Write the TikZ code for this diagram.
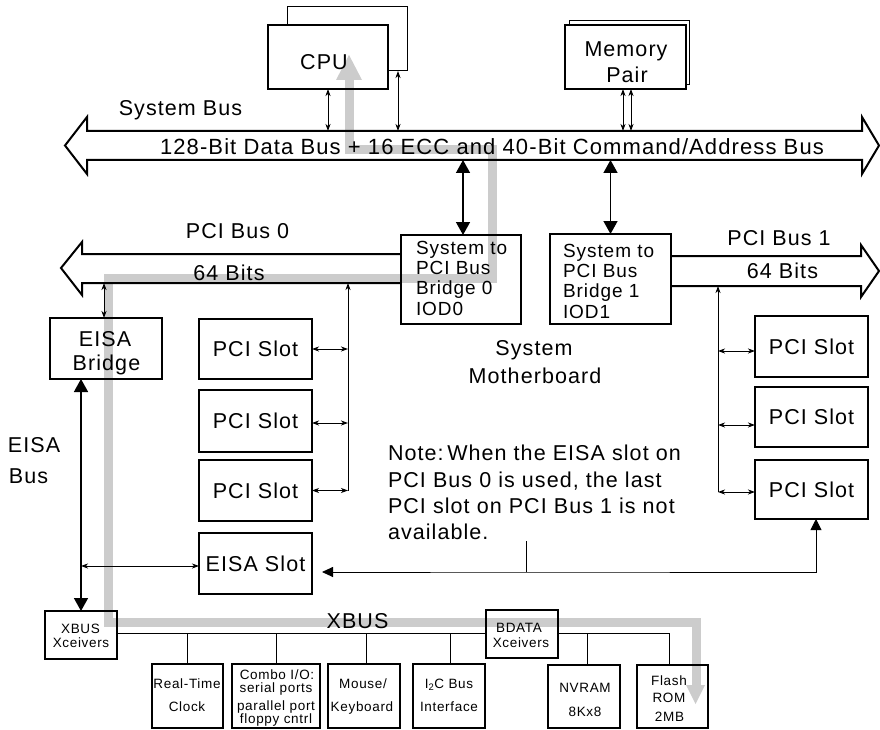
\documentclass[tikz,border=0pt]{standalone}
\usepackage{fontspec}
\setmainfont{Liberation Sans}[LetterSpace=5]
\usetikzlibrary{arrows.meta,calc,fit}
\definecolor{flow}{RGB}{204,204,204}
\newcommand\fmain{\fontsize{21.5}{27}\selectfont}
\newcommand\fbus{\fontsize{22}{26}\selectfont}
\newcommand\fbr{\fontsize{19}{20.3}\selectfont}
\newcommand\fsm{\fontsize{13.5}{14.5}\selectfont}
\begin{document}
\begin{tikzpicture}[x=1pt,y=-1pt,
  every node/.style={inner sep=0pt,outer sep=0pt,font=\fmain},
  box/.style={draw,line width=1.8pt,align=center},
  slot/.style={box,label={[font=\fmain]center:#1}},
  sbox/.style={draw,line width=2.2pt},
  shadowbox/.style={draw,line width=1pt},
  lbl/.style={anchor=base},
  lblw/.style={anchor=base west},
  sm/.style={anchor=base,font=\fsm},
  conn/.style={line width=0.9pt},
  dconn/.style={conn,{Stealth[length=7pt,width=5pt,inset=2pt]}-{Stealth[length=7pt,width=5pt,inset=2pt]}},
  uconn/.style={conn,-{Stealth[length=7pt,width=5pt,inset=2pt]}},
  bigconn/.style={line width=1.5pt,{Triangle[length=13pt,width=14pt]}-{Triangle[length=13pt,width=14pt]}},
  busline/.style={line width=2pt,line join=miter},
  flowpath/.style={draw=flow,line width=9pt,line join=miter}]
\useasboundingbox (0,0) rectangle (880,730);

% shadow boxes behind CPU and memory
\node[shadowbox,fit={(287,7)(407,71)}] (cpub) {};
\node[shadowbox,fit={(569,21)(689,85)}] (memb) {};
\fill[white] (268,25) rectangle (388,89);
\fill[white] (565,25) rectangle (686,89);

% grey data-flow path
\draw[flowpath] (349,79) -- (349,149.5) -- (492,149.5) -- (492,278) -- (108,278) -- (108,622) -- (696,622) -- (696,686);
\fill[flow] (336,80) -- (349,55) -- (362,80) -- cycle;
\fill[flow] (686,685) -- (705,685) -- (695.5,704) -- cycle;

% coordinates for bus edges
\coordinate (sbtop) at (0,131);
\coordinate (sbbot) at (0,160);
\coordinate (p0t) at (0,254);
\coordinate (p0b) at (0,283);
\coordinate (p1t) at (0,256);
\coordinate (p1b) at (0,286);
\coordinate (t0) at (348,0);
\coordinate (t1) at (718,0);
\coordinate (xl) at (0,633);
\coordinate (nt) at (526,572);

% system bus
\draw[busline] (87,131) -- (862,131) -- (862,117) -- (879,145.5) -- (862,174) -- (862,160) -- (87,160) -- (87,174) -- (65,145.5) -- (87,117) -- cycle;
\node[lbl] (sblabel) at (180.5,116) {System Bus};
\node[lbl,font=\fbus] (sbtext) at (492,154.5) {128-Bit Data Bus + 16 ECC and 40-Bit Command/Address Bus};

% CPU and memory
\node[box,fit={(268,25)(388,89)}] (cpu) {};
\node[lbl] (cputxt) at (324,70) {CPU};
\node[box,fit={(565,25)(686,89)}] (mem) {};
\node[lbl] (memtxt1) at (626,57) {Memory};
\node[lbl] (memtxt2) at (627,83) {Pair};

\draw[dconn] (cpu.south) -- (cpu.south |- sbtop);
\draw[dconn] ([xshift=-9pt]cpub.south east) -- ([xshift=-9pt]cpub.south east |- sbtop);
\draw[dconn] ([xshift=-2.5pt]mem.south) -- ([xshift=-2.5pt]mem.south |- sbtop);
\draw[dconn] ([xshift=5.5pt]mem.south) -- ([xshift=5.5pt]mem.south |- sbtop);

% bridges
\node[box,fit={(401,235)(521,324)}] (br0) {};
\node[anchor=north west,align=left,font=\fbr] (br0txt) at (416,241) {System to\\PCI Bus\\Bridge 0\\IOD0};
\node[box,fit={(550,234)(671,324)}] (br1) {};
\node[anchor=north west,align=left,font=\fbr] (br1txt) at (563,244) {System to\\PCI Bus\\Bridge 1\\IOD1};
\draw[bigconn] ([xshift=2pt]br0.north |- sbbot) -- ([xshift=2pt]br0.north);
\draw[bigconn] (br1.north |- sbbot) -- (br1.north);

% PCI bus 0
\draw[busline] (br0.west |- p0t) -- (82,254) -- (82,242) -- (61,268) -- (82,295) -- (82,283) -- (br0.west |- p0b);
\node[lbl] (p0lbl) at (237.5,238) {PCI Bus 0};
\node[lbl] (p0w) at (229,280) {64 Bits};

% PCI bus 1
\draw[busline] (br1.east |- p1t) -- (861,256) -- (861,245) -- (879,271) -- (861,297) -- (861,286) -- (br1.east |- p1b);
\node[lbl] (p1lbl) at (779,245) {PCI Bus 1};
\node[lbl] (p1w) at (782.5,278) {64 Bits};

\node[lbl] (mb1) at (534,355) {System};
\node[lbl] (mb2) at (535,383) {Motherboard};

% EISA bridge
\node[box,fit={(50,318)(162,379)}] (eisab) {};
\node[lbl] (eb1) at (105,346) {EISA};
\node[lbl] (eb2) at (106.5,370) {Bridge};
\draw[dconn] ([xshift=-2pt]eisab.north |- p0b) -- ([xshift=-2pt]eisab.north);
\node[lblw] (ebus1) at (8,452) {EISA};
\node[lblw] (ebus2) at (9,483) {Bus};

% left PCI slots
\node[slot=PCI Slot,fit={(199,319)(312,379)}] (pl1) {};
\node[slot=PCI Slot,fit={(199,390)(312,452)}] (pl2) {};
\node[slot=PCI Slot,fit={(199,460)(312,521)}] (pl3) {};
\node[slot=EISA Slot,fit={(199,533)(312,594)}] (eisas) {};
\draw[uconn] (pl3.east -| t0) -- (p0b -| t0);
\draw[dconn] (pl1.east) -- (pl1.east -| t0);
\draw[dconn] ([yshift=-2pt]pl2.east) -- ([yshift=-2pt]pl2.east -| t0);
\draw[dconn] (pl3.east) -- (pl3.east -| t0);

% right PCI slots
\node[slot=PCI Slot,fit={(755,316)(868,377)}] (pr1) {};
\node[slot=PCI Slot,fit={(755,387)(868,447)}] (pr2) {};
\node[slot=PCI Slot,fit={(755,460)(868,519)}] (pr3) {};
\draw[uconn] ([yshift=-2.5pt]pr3.west -| t1) -- (p1b -| t1);
\draw[dconn] ([yshift=-4.5pt]pr1.west) -- ([yshift=-4.5pt]pr1.west -| t1);
\draw[dconn] ([yshift=-8pt]pr2.west) -- ([yshift=-8pt]pr2.west -| t1);
\draw[dconn] ([yshift=-2.5pt]pr3.west) -- ([yshift=-2.5pt]pr3.west -| t1);

% note
\node[lblw] (n1) at (388,460) {Note:\,When the EISA slot on};
\node[lblw] (n2) at (388,487) {PCI Bus 0 is used, the last};
\node[lblw] (n3) at (388,513) {PCI slot on PCI Bus 1 is not};
\node[lblw] (n4) at (388,539) {available.};
\draw[conn,{Triangle[length=11pt,width=10pt]}-{Triangle[length=11pt,width=11pt]}] ([xshift=10pt]eisas.east |- nt) -- (nt) -| ([xshift=4.5pt]pr3.south);
\draw[conn] (526,541) -- (nt);

% XBUS Xceivers and EISA bus
\node[sbox,fit={(45,611)(117,659)}] (xbx) {};
\node[sm] (xbx1) at (80.5,633) {XBUS};
\node[sm] (xbx2) at (81,647) {Xceivers};
\draw[bigconn] (eisab.south -| xbx.north) -- (xbx.north);
\draw[dconn] ([yshift=-2.5pt]eisas.west -| xbx.north) -- ([yshift=-2.5pt]eisas.west);

% BDATA
\node[sbox,fit={(486,610)(558,658)}] (bd) {};
\node[sm] (bd1) at (519,632) {BDATA};
\node[sm] (bd2) at (521,647) {Xceivers};
\node[lbl] (xbuslbl) at (357.5,628) {XBUS};

% bottom devices
\node[sbox,fit={(152,664)(223,728)}] (rtc) {};
\node[sm] (rtc1) at (187,688) {Real-Time};
\node[sm] (rtc2) at (187,711) {Clock};
\node[sbox,fit={(232,664)(320,728)}] (combo) {};
\node[sm] (cb1) at (277,679) {Combo I/O:};
\node[sm] (cb2) at (276,692) {serial ports};
\node[sm] (cb3) at (276,710) {parallel port};
\node[sm] (cb4) at (276,723) {floppy cntrl};
\node[sbox,fit={(328,664)(400,728)}] (mouse) {};
\node[sm] (ms1) at (363,688) {Mouse/};
\node[sm] (ms2) at (362,711) {Keyboard};
\node[sbox,fit={(413,664)(485,728)}] (i2c) {};
\node[sm] (ic1) at (449,688) {I\textsubscript{2}C Bus};
\node[sm] (ic2) at (449,711) {Interface};
\node[sbox,fit={(548,665)(620,728)}] (nvram) {};
\node[sm] (nv1) at (585,692) {NVRAM};
\node[sm] (nv2) at (585,716) {8Kx8};
\node[sbox,fit={(637,665)(708,728)}] (flash) {};
\node[sm] (fl1) at (669,685) {Flash};
\node[sm] (fl2) at (669,702) {ROM};
\node[sm] (fl3) at (669.5,721) {2MB};

% XBUS lines
\draw[conn] (xbx.east |- xl) -- (bd.west |- xl);
\draw[conn] (bd.east |- xl) -| ([xshift=-3.5pt]flash.north);
\draw[conn] (rtc.north |- xl) -- (rtc.north);
\draw[conn] (combo.north |- xl) -- (combo.north);
\draw[conn] ([xshift=2pt]mouse.north |- xl) -- ([xshift=2pt]mouse.north);
\draw[conn] ([xshift=1pt]i2c.north |- xl) -- ([xshift=1pt]i2c.north);
\draw[conn] ([xshift=3pt]nvram.north |- xl) -- ([xshift=3pt]nvram.north);
\end{tikzpicture}
\end{document}
